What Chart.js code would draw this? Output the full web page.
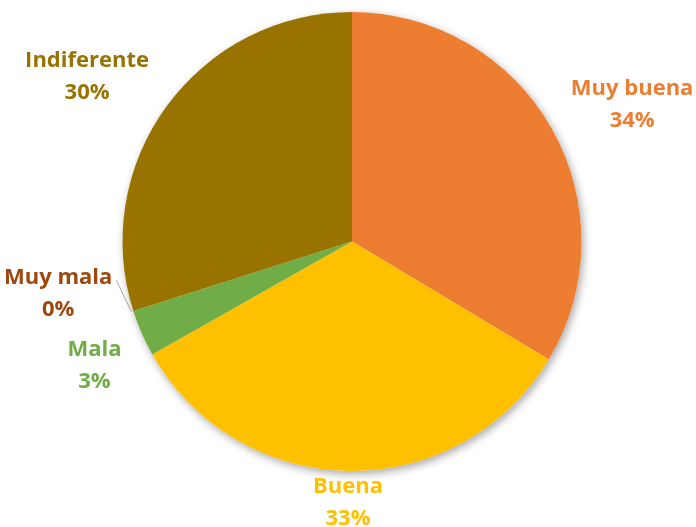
<!DOCTYPE html>
<html>
<head>
<meta charset="utf-8">
<script src="https://cdn.jsdelivr.net/npm/chart.js@4.4.1/dist/chart.umd.min.js"></script>
<style>
  html, body { margin: 0; padding: 0; background: #fff; }
  #wrap { width: 696px; height: 527px; }
</style>
</head>
<body>
<div id="wrap"><canvas id="torta"></canvas></div>
<script>
//Datos
const categorias = ['Muy buena', 'Buena', 'Mala', 'Muy mala', 'Indiferente'];
const valores = [33.6, 33.2, 3.3, 0, 29.9];
const colores = ['#ED7D31', '#FFC000', '#70AD47', '#9E480E', '#997300'];

//sombra detras de la torta
const sombraTorta = {
  id: 'sombraTorta',
  beforeDatasetsDraw(chart) {
    const arc = chart.getDatasetMeta(0).data[0];
    const ctx = chart.ctx;
    ctx.save();
    ctx.shadowColor = 'rgba(0,0,0,0.35)';
    ctx.shadowBlur = 8;
    ctx.shadowOffsetX = 2;
    ctx.shadowOffsetY = 3;
    ctx.fillStyle = '#fff';
    ctx.beginPath();
    ctx.arc(arc.x, arc.y, arc.outerRadius, 0, Math.PI * 2);
    ctx.fill();
    ctx.restore();
  }
};

//etiquetas afuera de cada porcion
const etiquetas = {
  id: 'etiquetas',
  afterDatasetsDraw(chart) {
    const ctx = chart.ctx;
    const meta = chart.getDatasetMeta(0);
    const total = valores.reduce((a, b) => a + b, 0);
    const gap = 22, lineH = 32, alto = 50;
    const cajas = [];
    ctx.save();
    ctx.font = 'bold 22px "Open Sans"';
    ctx.textAlign = 'center';
    ctx.textBaseline = 'middle';
    meta.data.forEach((arc, i) => {
      const ang = (arc.startAngle + arc.endAngle) / 2;
      const sx = Math.cos(ang), sy = Math.sin(ang);
      const r = arc.outerRadius + gap;
      const px = arc.x + r * sx, py = arc.y + r * sy;
      const linea1 = categorias[i];
      const linea2 = Math.round(valores[i] / total * 100) + '%';
      const ancho = Math.max(ctx.measureText(linea1).width, ctx.measureText(linea2).width);
      const kx = Math.max(-1, Math.min(1, sx * 2));
      const ky = Math.max(-1, Math.min(1, sy * 1.6 + 0.25));
      let cx = px + ancho / 2 * kx;
      let cy = py + alto / 2 * ky;
      cy = Math.min(cy, chart.height - alto / 2);
      cy = Math.max(cy, alto / 2);
      //evitar que se encimen
      let movida = false;
      cajas.forEach(c => {
        if (Math.abs(c.cx - cx) < (c.w + ancho) / 2 && Math.abs(c.cy - cy) < alto) {
          cy = c.cy - alto - 22;
          movida = true;
        }
      });
      cajas.push({ cx: cx, cy: cy, w: ancho });
      if (movida) {
        ctx.strokeStyle = '#A6A6A6';
        ctx.lineWidth = 1;
        ctx.beginPath();
        ctx.moveTo(arc.x + (arc.outerRadius + 2) * sx, arc.y + (arc.outerRadius + 2) * sy);
        ctx.lineTo(cx + ancho / 2 + 4, cy - 12);
        ctx.stroke();
      }
      ctx.fillStyle = colores[i];
      ctx.fillText(linea1, cx, cy - lineH / 2 + 1);
      ctx.fillText(linea2, cx, cy + lineH / 2 + 1);
    });
    ctx.restore();
  }
};

const torta = document.getElementById('torta');

let torta_OBJ = new Chart(torta, {
  type: 'pie',
  data: {
    labels: categorias,
    datasets: [{
      data: valores,
      backgroundColor: colores,
      borderWidth: 0
    }]
  },
  options: {
    responsive: true,
    maintainAspectRatio: false,
    animation: false,
    layout: {
      padding: { left: 8, right: 0, top: 12, bottom: 56 }
    },
    plugins: {
      legend: { display: false },
      tooltip: { enabled: false }
    }
  },
  plugins: [sombraTorta, etiquetas]
});
</script>
</body>
</html>
